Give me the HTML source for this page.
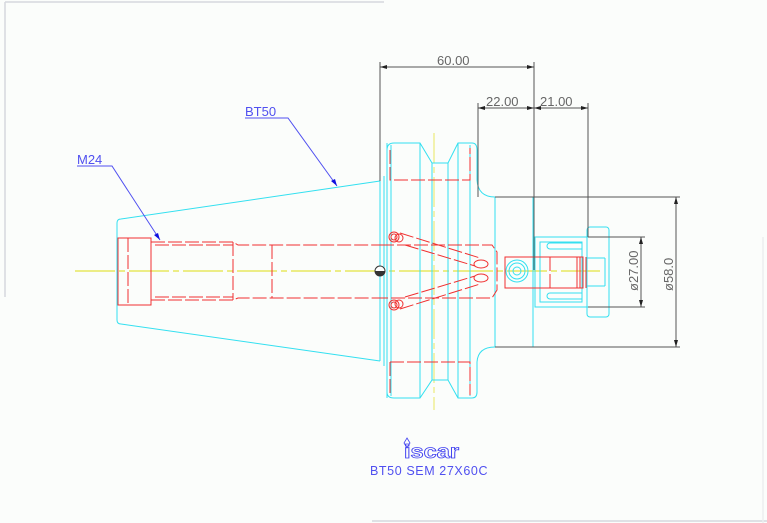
<!DOCTYPE html>
<html><head><meta charset="utf-8"><style>
html,body{margin:0;padding:0;background:#fbfdfb;}
svg{display:block;}
text{font-family:"Liberation Sans",sans-serif;}
</style></head><body>
<svg width="767" height="523" viewBox="0 0 767 523" xmlns="http://www.w3.org/2000/svg">
<rect width="767" height="523" fill="#fbfdfb"/>
<g stroke="#d6d8de" stroke-width="1.5" fill="none">
<line x1="5" y1="2" x2="384" y2="2"/>
<line x1="5" y1="2" x2="5" y2="297"/>
<line x1="372" y1="521" x2="767" y2="521"/>
<line x1="763" y1="237" x2="763" y2="523" stroke="#eceeef"/>
</g>
<line x1="75" y1="271" x2="600" y2="271" stroke="#e8e860" stroke-width="1.5" stroke-dasharray="40,4,6,4"/>
<line x1="434" y1="133" x2="434" y2="410" stroke="#e8e860" stroke-width="1" stroke-dasharray="30,4,6,4"/>
<g stroke="#33e0f0" stroke-width="1" fill="none">
<path d="M121,219 L380,181 M121,324 L380,361 M121,219 Q117,219 117,223 L117,320 Q117,324 121,324"/>
<line x1="380" y1="181" x2="380" y2="361"/>
<line x1="384" y1="176" x2="384" y2="366"/>
<line x1="387" y1="176" x2="387" y2="366"/>
<path d="M387,150 Q387,143 394,143 L420,143 L432,163 L448,163 L458,143 L472,143 Q477,143 477,150 L477,180 Q478,197 495,197 L533,197"/>
<path d="M387,392 Q387,398 394,398 L420,398 L432,380 L448,380 L458,398 L472,398 Q477,398 477,392 L477,362 Q478,347 495,347 L533,347"/>
<line x1="387" y1="143" x2="387" y2="398"/>
<line x1="391" y1="145" x2="391" y2="396"/>
<line x1="420" y1="143" x2="420" y2="398"/>
<line x1="432" y1="163" x2="432" y2="380"/>
<line x1="448" y1="163" x2="448" y2="380"/>
<line x1="458" y1="143" x2="458" y2="398"/>
<line x1="470" y1="145" x2="470" y2="396"/>
<line x1="495" y1="197" x2="495" y2="347"/>
<line x1="533" y1="197" x2="533" y2="347"/>
<rect x="535" y="237" width="52" height="70"/>
<rect x="540" y="242" width="42" height="60"/>
<path d="M550,243 h32 v6 h-32 a3,3 0 0 1 0,-6 z M550,293 h32 v6 h-32 a3,3 0 0 1 0,-6 z"/>
<rect x="587" y="227" width="22" height="90" rx="3"/>
<line x1="587" y1="237" x2="609" y2="237"/><line x1="587" y1="307" x2="609" y2="307"/>
<line x1="587" y1="258" x2="605" y2="258"/><line x1="587" y1="286" x2="605" y2="286"/>
<line x1="605" y1="258" x2="605" y2="286"/>
<circle cx="517" cy="271" r="11"/><circle cx="517" cy="271" r="8"/><circle cx="517" cy="271" r="4"/>
</g>
<g stroke="#f03030" stroke-width="1" fill="none" stroke-dasharray="14,3">
<rect x="118" y="238" width="33" height="67" stroke-dasharray="none"/>
<line x1="128" y1="238" x2="128" y2="305"/>
<path d="M151,242 L233,242 L238,245 L380,245 M151,300 L233,300 L238,298 L380,298"/>
<path d="M155,245 L233,245 M155,297 L233,297"/>
<line x1="233" y1="242" x2="233" y2="300"/>
<line x1="272" y1="245" x2="272" y2="298"/>
<path d="M380,245 L492,245 L497,252 L497,290 L492,298 L380,298"/>
<path d="M390,150 L390,180 L470,180 L470,148 M390,362 L390,395 M390,362 L470,362 L470,395"/>
<path d="M400,233 L480,258 M405,245 L475,266 M400,309 L480,284 M405,297 L475,276"/>
<rect x="505" y="257" width="78" height="31" stroke-dasharray="none"/>
<line x1="550" y1="257" x2="550" y2="288"/>
</g>
<g stroke="#f03030" stroke-width="1" fill="none">
<circle cx="394" cy="237" r="5"/><circle cx="394" cy="237" r="3"/><circle cx="399" cy="238" r="4"/>
<circle cx="394" cy="305" r="5"/><circle cx="394" cy="305" r="3"/><circle cx="399" cy="304" r="4"/>
<ellipse cx="481" cy="264" rx="7" ry="4"/><ellipse cx="481" cy="278" rx="7" ry="4"/>
<path d="M577,257 v31 M580,257 v31 M583,257 v31 M586,257 v31"/>
</g>
<g stroke="#555" stroke-width="1" fill="none">
<line x1="380" y1="62" x2="380" y2="181"/>
<line x1="534" y1="62" x2="534" y2="270"/>
<line x1="478" y1="103" x2="478" y2="197"/>
<line x1="588" y1="103" x2="588" y2="237"/>
<line x1="380" y1="67" x2="534" y2="67"/>
<line x1="478" y1="108" x2="588" y2="108"/>
<line x1="495" y1="197" x2="680" y2="197"/>
<line x1="495" y1="347" x2="680" y2="347"/>
<line x1="588" y1="237" x2="645" y2="237"/>
<line x1="588" y1="307" x2="645" y2="307"/>
<line x1="676" y1="197" x2="676" y2="347"/>
<line x1="641" y1="237" x2="641" y2="307"/>
</g>
<g fill="#222">
<path d="M380,67 l7,-2 v4z M534,67 l-7,-2 v4z M478,108 l7,-2 v4z M534,108 l-7,-2 v4z M534,108 l7,-2 v4z M588,108 l-7,-2 v4z"/>
<path d="M676,197 l-2,7 h4z M676,347 l-2,-7 h4z M641,237 l-2,7 h4z M641,307 l-2,-7 h4z"/>
</g>
<circle cx="380" cy="271" r="5" fill="#fff" stroke="#333"/>
<path d="M375,271 a5,5 0 0 0 10,0 z" fill="#333"/>
<g fill="#666" font-size="13">
<text x="437" y="65">60.00</text>
<text x="486" y="106">22.00</text>
<text x="540" y="106">21.00</text>
<text transform="translate(638,291) rotate(-90)">ø27.00</text>
<text transform="translate(673,291) rotate(-90)">ø58.0</text>
</g>
<g stroke="#5050f0" stroke-width="1" fill="none">
<path d="M77,166 L112,166 L160,240"/>
<path d="M245,118 L288,118 L337,186"/>
</g>
<path d="M160,240 l-6,-5 l4,-2z M337,186 l-6,-5 l4,-2z" fill="#1010e0"/>
<g fill="#5050f0" font-size="13">
<text x="77" y="164">M24</text>
<text x="245" y="116">BT50</text>
<text x="370" y="475" font-size="12.5" letter-spacing="0.6">BT50 SEM 27X60C</text>
</g>
<path d="M407,438 l3,5 l-3,5 l-3,-5z" fill="none" stroke="#4040f0" stroke-width="0.8"/>
<text x="404" y="458" font-size="19" font-weight="bold" fill="none" stroke="#4040f0" stroke-width="0.8" textLength="55" lengthAdjust="spacingAndGlyphs">iscar</text>
</svg>
</body></html>
